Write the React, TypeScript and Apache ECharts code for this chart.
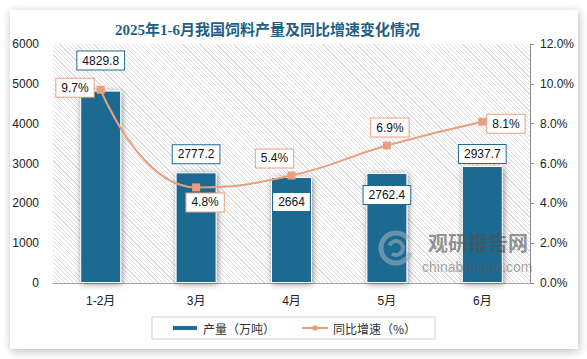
import React, { useEffect, useRef } from "react";
import * as echarts from "echarts";

const categories = ["1-2月", "3月", "4月", "5月", "6月"];
const output = [4829.8, 2777.2, 2664, 2762.4, 2937.7];
const growth = [9.7, 4.8, 5.4, 6.9, 8.1];
const leftTicks = { min: 0, max: 6000, interval: 1000 };
const rightTicks = { min: 0, max: 12, interval: 2 };

const BAR = "#1f6b92";
const LINE = "#e99f7e";

export default function App() {
  const ref = useRef<HTMLDivElement>(null);
  useEffect(() => {
    if (!ref.current) return;
    const chart = echarts.init(ref.current, undefined, { renderer: "svg" });

    const barLabels = [
      { position: "top", distance: 21 },
      { position: "top", distance: 9 },
      { position: "insideTop", distance: 16 },
      { position: "insideTop", distance: 13 },
      { position: "top", distance: 3 },
    ];
    const lineLabels = [
      { position: "left", distance: 3, offset: [0, -2] },
      { position: "bottom", distance: 2, offset: [9, 0] },
      { position: "top", distance: 4, offset: [-17, 0] },
      { position: "top", distance: 5, offset: [3, 0] },
      { position: "right", distance: 1, offset: [0, 2] },
    ];

    const labelBase = {
      show: true,
      color: "#111",
      fontSize: 12,
      fontFamily: "Liberation Sans, Arial, sans-serif",
      backgroundColor: "#fff",
      borderWidth: 1,
      padding: [3, 5],
    };

    const wmColor = "rgba(80,80,80,0.62)";
    const logoColor = "rgba(150,175,190,0.6)";

    chart.setOption({
      animation: false,
      title: {
        text: "2025年1-6月我国饲料产量及同比增速变化情况",
        left: 115,
        top: 22,
        padding: 0,
        textStyle: {
          fontSize: 15,
          fontWeight: "bold",
          color: "#1f5f86",
          fontFamily: "Liberation Serif, Noto Sans CJK SC, serif",
        },
      },
      legend: {
        left: "center",
        top: 317,
        padding: [5, 19],
        borderColor: "#d0d0d0",
        borderWidth: 1,
        itemGap: 26,
        itemWidth: 26,
        itemHeight: 6,
        textStyle: { fontSize: 12, color: "#333", fontFamily: "Noto Sans CJK SC, sans-serif" },
        data: [
          { name: "产量（万吨）", icon: "rect" },
          { name: "同比增速（%）" },
        ],
      },
      grid: {
        left: 53,
        right: 57,
        top: 44,
        bottom: 76,
      },
      xAxis: {
        type: "category",
        data: categories,
        axisTick: { show: false },
        axisLine: { lineStyle: { color: "#a6a6a6" } },
        axisLabel: {
          margin: 12,
          fontSize: 12,
          color: "#222",
          fontFamily: "Liberation Sans, Noto Sans CJK SC, sans-serif",
        },
      },
      yAxis: [
        {
          type: "value",
          ...leftTicks,
          axisLine: { show: false },
          axisTick: { show: false },
          splitLine: { show: false },
          axisLabel: {
            margin: 14,
            fontSize: 12,
            color: "#222",
            fontFamily: "Liberation Sans, sans-serif",
            formatter: (v: number) => String(v),
          },
        },
        {
          type: "value",
          ...rightTicks,
          position: "right",
          axisLine: { show: true, lineStyle: { color: "#8c8c8c" } },
          axisTick: { show: true, length: 4, lineStyle: { color: "#8c8c8c" } },
          splitLine: { show: false },
          axisLabel: {
            margin: 10,
            fontSize: 12,
            color: "#222",
            fontFamily: "Liberation Sans, sans-serif",
            formatter: (v: number) => v.toFixed(1) + "%",
          },
        },
      ],
      series: [
        {
          name: "产量（万吨）",
          type: "bar",
          barWidth: 41,
          itemStyle: {
            color: BAR,
            borderColor: "#fff",
            borderWidth: 1,
            shadowBlur: 6,
            shadowColor: "rgba(0,0,0,0.45)",
            shadowOffsetX: 1,
            shadowOffsetY: 1,
          },
          data: output.map((v, i) => ({
            value: v,
            label: { ...labelBase, borderColor: BAR, ...barLabels[i], formatter: () => String(v) },
          })),
          z: 2,
        },
        {
          name: "同比增速（%）",
          type: "line",
          yAxisIndex: 1,
          smooth: 0.5,
          symbol: "rect",
          symbolSize: 8,
          lineStyle: { color: LINE, width: 2 },
          itemStyle: { color: LINE },
          data: growth.map((v, i) => ({
            value: v,
            label: { ...labelBase, borderColor: LINE, ...lineLabels[i], formatter: () => v.toFixed(1) + "%" },
          })),
          z: 5,
        },
      ],
      graphic: [
        {
          type: "arc",
          z: 100,
          shape: { cx: 396, cy: 248, r: 15, startAngle: 0.3, endAngle: 5.6 },
          style: { stroke: logoColor, lineWidth: 5, fill: "none" },
        },
        {
          type: "arc",
          z: 100,
          shape: { cx: 396, cy: 248, r: 7, startAngle: 3.5, endAngle: 8.5 },
          style: { stroke: logoColor, lineWidth: 4, fill: "none" },
        },
        {
          type: "text",
          z: 100,
          x: 428,
          y: 232,
          style: {
            text: "观研报告网",
            fontSize: 20,
            lineHeight: 20,
            fontWeight: "bold",
            fill: wmColor,
            fontFamily: "Noto Sans CJK SC, sans-serif",
          },
        },
        {
          type: "text",
          z: 100,
          x: 422,
          y: 260,
          style: {
            text: "chinabaogao.com",
            fontSize: 14,
            lineHeight: 14,
            fill: "rgba(90,90,90,0.55)",
            fontFamily: "Liberation Sans, sans-serif",
          },
        },
      ],
    });
    return () => chart.dispose();
  }, []);

  return (
    <div style={{ position: "fixed", left: 0, top: 0, width: 587, height: 359, background: "#fff", overflow: "hidden" }}>
      <div
        style={{
          position: "absolute",
          left: 10,
          top: 10,
          width: 568,
          height: 339,
          background: "#fff",
          boxShadow: "1px 2px 9px rgba(0,0,0,0.28)",
        }}
      />
      <div
        style={{
          position: "absolute",
          left: 53,
          top: 44,
          width: 477,
          height: 239,
          background: "repeating-linear-gradient(45deg, #ffffff 0px, #ffffff 2.2px, #dedede 2.2px, #dedede 3px)",
        }}
      />
      <div ref={ref} style={{ position: "absolute", left: 0, top: 0, width: 587, height: 359 }} />
    </div>
  );
}
